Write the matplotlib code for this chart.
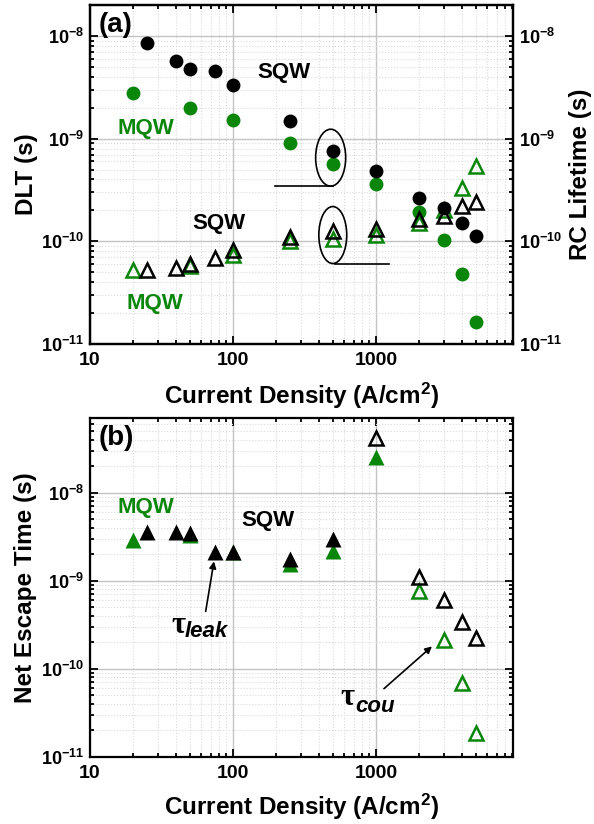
import matplotlib
matplotlib.use("Agg")
import matplotlib.pyplot as plt
import matplotlib.ticker as mticker
from matplotlib.patches import Ellipse
from matplotlib.lines import Line2D

plt.rcParams['font.family'] = ['Liberation Sans', 'DejaVu Sans']
plt.rcParams['font.weight'] = 'bold'
plt.rcParams['mathtext.fontset'] = 'custom'
plt.rcParams['mathtext.rm'] = 'Liberation Sans:bold'
plt.rcParams['mathtext.bf'] = 'Liberation Sans:bold'
plt.rcParams['mathtext.it'] = 'Liberation Sans:bold:italic'
plt.rcParams['mathtext.default'] = 'rm'

GREEN = '#0a860a'

# ---------------- data: panel (a) ----------------
J_sqw = [25, 40, 50, 75, 100, 250, 500, 1000, 2000, 3000, 4000, 5000]
dlt_sqw = [8.5e-9, 5.7e-9, 4.8e-9, 4.6e-9, 3.3e-9, 1.47e-9, 7.6e-10, 4.8e-10,
           2.66e-10, 2.1e-10, 1.5e-10, 1.13e-10]
rc_sqw = [5.2e-11, 5.5e-11, 6.0e-11, 6.9e-11, 8.2e-11, 1.1e-10, 1.25e-10, 1.32e-10,
          1.66e-10, 1.76e-10, 2.2e-10, 2.4e-10]

J_mqw = [20, 50, 100, 250, 500, 1000, 2000, 3000, 4000, 5000]
dlt_mqw = [2.8e-9, 2.0e-9, 1.52e-9, 9.1e-10, 5.7e-10, 3.6e-10, 1.95e-10, 1.03e-10,
           4.8e-11, 1.63e-11]
rc_mqw = [5.3e-11, 5.8e-11, 7.3e-11, 1.0e-10, 1.05e-10, 1.16e-10, 1.5e-10, 2.0e-10,
          3.3e-10, 5.4e-10]

# ---------------- data: panel (b) ----------------
J_sqw_leak = [25, 40, 50, 75, 100, 250, 500]
esc_sqw_leak = [3.54e-9, 3.6e-9, 3.5e-9, 2.14e-9, 2.1e-9, 1.77e-9, 2.98e-9]
J_sqw_cou = [1000, 2000, 3000, 4000, 5000]
esc_sqw_cou = [4.2e-8, 1.1e-9, 6.1e-10, 3.4e-10, 2.25e-10]

J_mqw_leak = [20, 50, 100, 250, 500, 1000]
esc_mqw_leak = [2.9e-9, 3.3e-9, 2.1e-9, 1.56e-9, 2.15e-9, 2.55e-8]
J_mqw_cou = [2000, 3000, 4000, 5000]
esc_mqw_cou = [7.6e-10, 2.14e-10, 6.8e-11, 1.87e-11]

x_ticks = [10, 100, 1000]
x_tick_labels = ['10', '100', '1000']

fig = plt.figure(figsize=(5.94, 8.24), dpi=100)
ax1 = fig.add_axes([0.1515, 0.5825, 0.7121, 0.4114])
ax2 = fig.add_axes([0.1515, 0.0817, 0.7121, 0.4114])

XTICK_FS = 14
YTICK_FS = 13
LABEL_FS = 17.5
ANN_FS = 16
PANEL_FS = 20


def style_ticks(ax):
    ax.tick_params(which='both', direction='in', width=1.3)
    ax.tick_params(axis='x', labelsize=XTICK_FS)
    ax.tick_params(axis='y', labelsize=YTICK_FS)
    ax.tick_params(which='major', length=6)
    ax.tick_params(axis='x', which='major', pad=6)
    ax.tick_params(axis='y', which='major', pad=4)
    ax.tick_params(which='minor', length=3)
    for s in ax.spines.values():
        s.set_linewidth(1.6)


def style_axis(ax, ylim):
    ax.set_xscale('log')
    ax.set_yscale('log')
    ax.set_xlim(10, 9100)
    ax.set_ylim(*ylim)
    ax.xaxis.set_major_locator(mticker.FixedLocator(x_ticks))
    ax.xaxis.set_major_formatter(mticker.FixedFormatter(x_tick_labels))
    ax.xaxis.set_minor_locator(mticker.LogLocator(base=10, subs=range(2, 10)))
    ax.xaxis.set_minor_formatter(mticker.NullFormatter())
    ax.yaxis.set_major_locator(mticker.LogLocator(base=10, numticks=10))
    ax.yaxis.set_minor_locator(mticker.LogLocator(base=10, subs=range(2, 10), numticks=10))
    ax.yaxis.set_minor_formatter(mticker.NullFormatter())
    ax.tick_params(which='both', top=True, right=True)
    style_ticks(ax)
    ax.grid(True, which='major', color='#c4c4c4', lw=1.0, ls='-')
    ax.grid(True, which='minor', color='#dadada', lw=0.8, ls=':')
    ax.set_axisbelow(True)


def tau_label(ax, x, y, sub, dx, dy):
    ax.text(x, y, '\u03c4', transform=ax.transAxes, fontsize=22,
            family=['Liberation Serif', 'DejaVu Serif'], fontweight='bold',
            ha='left', va='baseline')
    ax.annotate(sub, xy=(x, y), xycoords='axes fraction', xytext=(dx, dy),
                textcoords='offset points', fontsize=16, fontweight='bold',
                fontstyle='italic', ha='left', va='baseline')


MS_C = 10
MS_T = 10.5
MEW = 1.8

# ---------------- panel (a) ----------------
style_axis(ax1, (1e-11, 2e-8))
ax1.plot(J_mqw, dlt_mqw, 'o', color=GREEN, ms=MS_C, mec='none', zorder=3)
ax1.plot(J_mqw, rc_mqw, '^', mfc='none', mec=GREEN, ms=MS_T, mew=MEW, zorder=3)
ax1.plot(J_sqw, dlt_sqw, 'o', color='black', ms=MS_C, mec='none', zorder=4)
ax1.plot(J_sqw, rc_sqw, '^', mfc='none', mec='black', ms=MS_T, mew=MEW, zorder=4)

ax1r = ax1.twinx()
ax1r.set_yscale('log')
ax1r.set_ylim(1e-11, 2e-8)
ax1r.yaxis.set_major_locator(mticker.LogLocator(base=10, numticks=10))
ax1r.yaxis.set_minor_locator(mticker.LogLocator(base=10, subs=range(2, 10), numticks=10))
ax1r.yaxis.set_minor_formatter(mticker.NullFormatter())
style_ticks(ax1r)
ax1r.set_ylabel('RC Lifetime (s)', fontsize=LABEL_FS, fontweight='bold', labelpad=5)
ax1.tick_params(axis='y', which='both', labelright=False)

ax1.set_ylabel('DLT (s)', fontsize=LABEL_FS, fontweight='bold', labelpad=2)
ax1.set_xlabel('Current Density (A/cm$^2$)', fontsize=LABEL_FS, fontweight='bold', labelpad=8)

ax1.text(0.02, 0.94, '(a)', transform=ax1.transAxes, fontsize=PANEL_FS,
         fontweight='bold', va='center', ha='left')
ax1.text(0.395, 0.80, 'SQW', transform=ax1.transAxes, fontsize=ANN_FS,
         fontweight='bold', va='center', ha='left', color='black')
ax1.text(0.064, 0.636, 'MQW', transform=ax1.transAxes, fontsize=ANN_FS,
         fontweight='bold', va='center', ha='left', color=GREEN)
ax1.text(0.242, 0.356, 'SQW', transform=ax1.transAxes, fontsize=ANN_FS,
         fontweight='bold', va='center', ha='left', color='black')
ax1.text(0.087, 0.12, 'MQW', transform=ax1.transAxes, fontsize=ANN_FS,
         fontweight='bold', va='center', ha='left', color=GREEN)

# ellipses with leader lines
ax1.add_patch(Ellipse((0.569, 0.5496), 0.071, 0.168, transform=ax1.transAxes,
                      fill=False, ec='black', lw=1.2, zorder=5))
ax1.add_line(Line2D([0.437, 0.574], [0.465, 0.465], transform=ax1.transAxes,
                    color='black', lw=1.2, zorder=5))
ax1.add_patch(Ellipse((0.574, 0.3215), 0.066, 0.168, transform=ax1.transAxes,
                      fill=False, ec='black', lw=1.2, zorder=5))
ax1.add_line(Line2D([0.580, 0.707], [0.2375, 0.2375], transform=ax1.transAxes,
                    color='black', lw=1.2, zorder=5))

# ---------------- panel (b) ----------------
style_axis(ax2, (1e-11, 7.1e-8))
ax2.plot(J_mqw_leak, esc_mqw_leak, '^', color=GREEN, ms=MS_T + 0.5, mec='none', zorder=3)
ax2.plot(J_mqw_cou, esc_mqw_cou, '^', mfc='none', mec=GREEN, ms=MS_T, mew=MEW, zorder=3)
ax2.plot(J_sqw_leak, esc_sqw_leak, '^', color='black', ms=MS_T + 0.5, mec='none', zorder=4)
ax2.plot(J_sqw_cou, esc_sqw_cou, '^', mfc='none', mec='black', ms=MS_T, mew=MEW, zorder=4)

ax2.set_ylabel('Net Escape Time (s)', fontsize=LABEL_FS, fontweight='bold', labelpad=3)
ax2.set_xlabel('Current Density (A/cm$^2$)', fontsize=LABEL_FS, fontweight='bold')
ax2.xaxis.set_label_coords(0.5, -0.103)

ax2.text(0.02, 0.941, '(b)', transform=ax2.transAxes, fontsize=PANEL_FS,
         fontweight='bold', va='center', ha='left')
ax2.text(0.064, 0.735, 'MQW', transform=ax2.transAxes, fontsize=ANN_FS,
         fontweight='bold', va='center', ha='left', color=GREEN)
ax2.text(0.357, 0.698, 'SQW', transform=ax2.transAxes, fontsize=ANN_FS,
         fontweight='bold', va='center', ha='left', color='black')

arrow_kw = dict(arrowstyle='-|>', color='black', lw=1.2, shrinkA=0, shrinkB=0,
                mutation_scale=10)
ax2.annotate('', xy=(0.2931, 0.5761), xytext=(0.2735, 0.4286),
             xycoords='axes fraction', textcoords='axes fraction', arrowprops=arrow_kw)
ax2.annotate('', xy=(0.8085, 0.3254), xytext=(0.6950, 0.2006),
             xycoords='axes fraction', textcoords='axes fraction', arrowprops=arrow_kw)
tau_label(ax2, 0.1915, 0.366, 'leak', 10, -3)
tau_label(ax2, 0.591, 0.1534, 'cou', 10.8, -5)

fig.savefig('out.png', dpi=100)
